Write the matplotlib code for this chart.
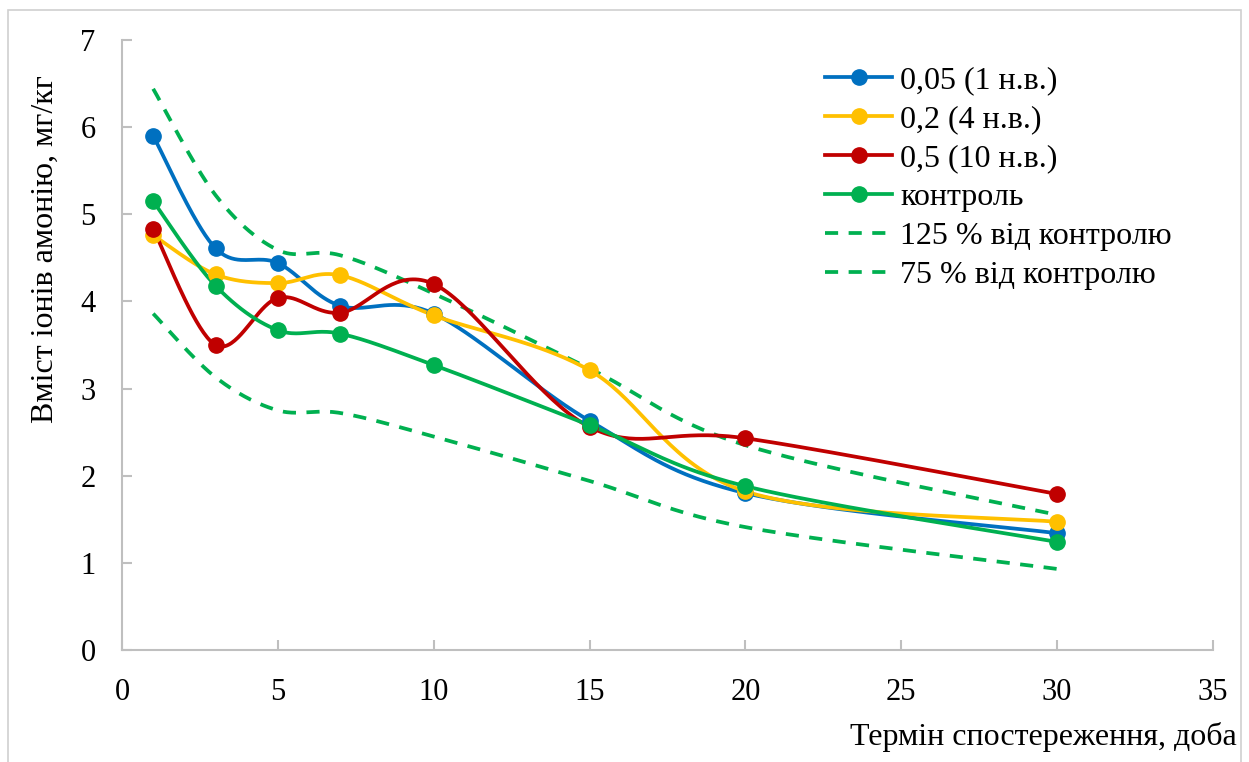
import numpy as np
import matplotlib
matplotlib.use("Agg")
import matplotlib.pyplot as plt
from matplotlib.patches import Rectangle

days = [1, 3, 5, 7, 10, 15, 20, 30]
s005 = [5.90, 4.61, 4.44, 3.95, 3.86, 2.63, 1.80, 1.34]
s02 = [4.76, 4.31, 4.21, 4.30, 3.84, 3.21, 1.82, 1.47]
s05 = [4.83, 3.50, 4.04, 3.87, 4.20, 2.56, 2.43, 1.79]
control = [5.15, 4.18, 3.67, 3.63, 3.27, 2.58, 1.88, 1.24]
up125 = [6.44, 5.22, 4.59, 4.53, 4.09, 3.23, 2.35, 1.55]
low75 = [3.86, 3.13, 2.75, 2.72, 2.45, 1.94, 1.41, 0.93]

labels = ["0,05 (1 н.в.)", "0,2 (4 н.в.)", "0,5 (10 н.в.)", "контроль",
          "125 % від контролю", "75 % від контролю"]
xticks = [0, 5, 10, 15, 20, 25, 30, 35]
yticks = [0, 1, 2, 3, 4, 5, 6, 7]

plt.rcParams['font.family'] = ['Liberation Serif', 'DejaVu Serif']

W, H = 1249, 762
fig = plt.figure(figsize=(W / 100, H / 100), dpi=100)
ax = fig.add_axes([122 / W, 1 - 650 / H, (1213 - 122) / W, (650 - 40) / H])
ax.set_xlim(0, 35)
ax.set_ylim(0, 7)

fig.patches.append(Rectangle((8 / W, -0.01), (1241 - 8) / W, 1 - 10 / H + 0.01,
                             transform=fig.transFigure, fill=False,
                             edgecolor='#d0d0d0', linewidth=1.2))


def smooth(xs, ys, n=40):
    pts = ax.transData.transform(np.column_stack([xs, ys]))
    P = np.vstack([pts[0], pts, pts[-1]])
    out = []
    for i in range(1, len(P) - 2):
        p0, p1, p2, p3 = P[i - 1], P[i], P[i + 1], P[i + 2]
        b1 = p1 + (p2 - p0) / 6.0
        b2 = p2 - (p3 - p1) / 6.0
        t = np.linspace(0, 1, n)[:, None]
        seg = ((1 - t) ** 3) * p1 + 3 * ((1 - t) ** 2) * t * b1 + 3 * (1 - t) * t ** 2 * b2 + t ** 3 * p2
        out.append(seg if i == 1 else seg[1:])
    out = np.vstack(out)
    d = ax.transData.inverted().transform(out)
    return d[:, 0], d[:, 1]


LW = 2.7
MS = 11
colors = ['#0070C0', '#FFC000', '#C00000', '#00B050']
series = [s005, s02, s05, control]
handles = []
for ys, c, lab in zip(series, colors, labels[:4]):
    sx, sy = smooth(days, ys)
    ax.plot(sx, sy, color=c, lw=LW, solid_capstyle='round', zorder=3)
    ax.plot(days, ys, 'o', color=c, ms=MS, zorder=4)
    h, = ax.plot([], [], '-o', color=c, lw=LW, ms=MS, label=lab)
    handles.append(h)
for ys, lab in zip([up125, low75], labels[4:]):
    sx, sy = smooth(days, ys)
    ax.plot(sx, sy, color='#00B050', lw=LW, ls=(0, (3.5, 2.8)), zorder=2)
    h, = ax.plot([], [], color='#00B050', lw=LW, ls=(0, (3.5, 2.8)), label=lab)
    handles.append(h)

for sp in ['top', 'right']:
    ax.spines[sp].set_visible(False)
for sp in ['left', 'bottom']:
    ax.spines[sp].set_color('#bfbfbf')
    ax.spines[sp].set_linewidth(1.5)
ax.set_xticks(xticks)
ax.set_yticks(yticks)
ax.tick_params(direction='in', length=7, width=1.5, color='#bfbfbf',
               labelsize=22)
ax.tick_params(axis='y', pad=19)
ax.tick_params(axis='x', pad=20)

leg = ax.legend(handles=handles, loc='upper left',
                bbox_to_anchor=((825 - 122) / (1213 - 122), 1 - (66 - 40) / 610),
                frameon=False, fontsize=23, handlelength=2.1, handletextpad=0.25,
                labelspacing=0.3, borderpad=0, borderaxespad=0)

fig.text(45 / W, 1 - 249 / H, "Вміст іонів амонію, мг/кг", rotation=90,
         ha='center', va='center', fontsize=23)
fig.text(1237 / W, 1 - 737 / H, "Термін спостереження, доба",
         ha='right', va='center', fontsize=23)

fig.savefig("out.png", dpi=100)
